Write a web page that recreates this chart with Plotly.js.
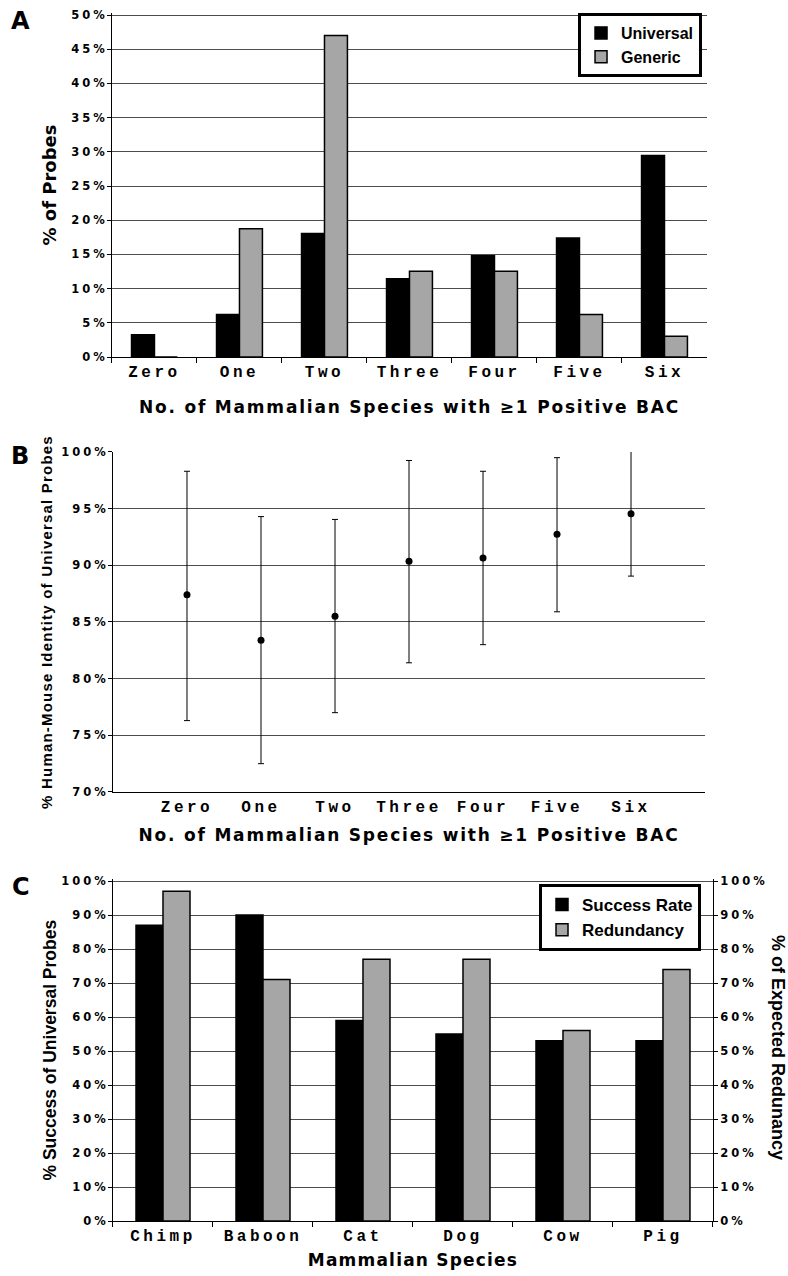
<!DOCTYPE html>
<html><head><meta charset="utf-8">
<script src="https://cdn.plot.ly/plotly-3.0.1.min.js"></script>
<style>
html,body{margin:0;padding:0;background:#fff;}
#chart{width:788px;height:1276px;}
.ytick text,.y2tick text,.y3tick text,.y4tick text{letter-spacing:3px;}
.xtick text,.x2tick text,.x3tick text{letter-spacing:3.5px;}
.g-xtitle text,.g-x2title text{letter-spacing:1.8px;}
.g-x3title text{letter-spacing:1.2px;}
.g-y2title text{letter-spacing:1.2px;}
</style></head><body><div id="chart"></div>
<script>
// ---- Panel A data ----
const countLabels = ['Zero', 'One', 'Two', 'Three', 'Four', 'Five', 'Six'];
const universalPct = [3.25, 6.2, 18.05, 11.45, 14.8, 17.4, 29.45];
const genericPct = [0, 18.75, 47.0, 12.55, 12.55, 6.2, 3.05];
const tickValsA = [0, 5, 10, 15, 20, 25, 30, 35, 40, 45, 50];
const tickTextA = ['0%', '5%', '10%', '15%', '20%', '25%', '30%', '35%', '40%', '45%', '50%'];

// ---- Panel B data ----
const identityMean = [87.4, 83.4, 85.5, 90.35, 90.65, 92.75, 94.55];
const identityErrPlus = [10.9, 10.9, 8.55, 8.9, 7.65, 6.75, 5.75];
const identityErrMinus = [11.1, 10.9, 8.5, 8.95, 7.65, 6.85, 5.5];
const tickValsB = [70, 75, 80, 85, 90, 95, 100];
const tickTextB = ['70%', '75%', '80%', '85%', '90%', '95%', '100%'];

// ---- Panel C data ----
const species = ['Chimp', 'Baboon', 'Cat', 'Dog', 'Cow', 'Pig'];
const successRate = [87, 90, 59, 55, 53, 53];
const redundancy = [97, 71, 77, 77, 56, 74];
const tickValsC = [0, 10, 20, 30, 40, 50, 60, 70, 80, 90, 100];
const tickTextC = ['0%', '10%', '20%', '30%', '40%', '50%', '60%', '70%', '80%', '90%', '100%'];

const BLACK = '#000000';
const GRAY = '#a6a6a6';
const GRID = '#4d4d4d';
const numFont = {family: 'DejaVu Sans', size: 11.5, weight: 'bold', color: BLACK};
const catFont = {family: 'Liberation Mono', size: 16, weight: 'bold', color: BLACK};
const wideTitleFont = {family: 'DejaVu Sans', size: 17, weight: 'bold', color: BLACK};

const traces = [
  {type: 'bar', name: 'Universal', x: countLabels, y: universalPct, xaxis: 'x', yaxis: 'y',
   marker: {color: BLACK, line: {color: BLACK, width: 1.5}}, legend: 'legend', hoverinfo: 'none'},
  {type: 'bar', name: 'Generic', x: countLabels, y: genericPct, xaxis: 'x', yaxis: 'y',
   marker: {color: GRAY, line: {color: BLACK, width: 1.5}}, legend: 'legend', hoverinfo: 'none'},
  {type: 'scatter', mode: 'markers', x: countLabels, y: identityMean, xaxis: 'x2', yaxis: 'y2',
   marker: {color: BLACK, size: 7}, showlegend: false, cliponaxis: false, hoverinfo: 'none',
   error_y: {type: 'data', symmetric: false, array: identityErrPlus, arrayminus: identityErrMinus,
             color: BLACK, thickness: 1, width: 3}},
  {type: 'bar', name: 'Success Rate', x: species, y: successRate, xaxis: 'x3', yaxis: 'y3',
   offsetgroup: 'succ', alignmentgroup: 'c',
   marker: {color: BLACK, line: {color: BLACK, width: 1.5}}, legend: 'legend2', hoverinfo: 'none'},
  {type: 'bar', name: 'Redundancy', x: species, y: redundancy, xaxis: 'x3', yaxis: 'y4',
   offsetgroup: 'red', alignmentgroup: 'c',
   marker: {color: GRAY, line: {color: BLACK, width: 1.5}}, legend: 'legend2', hoverinfo: 'none'}
];

const yCommon = {
  showline: true, linecolor: BLACK, linewidth: 1, ticks: 'outside', ticklen: 4, tickcolor: BLACK,
  tickfont: numFont, tickmode: 'array', gridcolor: GRID, gridwidth: 1,
  zeroline: false, fixedrange: true, automargin: 'left', ticklabelstandoff: -3
};
const xCatCommon = {
  type: 'category', showline: true, linecolor: BLACK, linewidth: 1, tickfont: catFont,
  zeroline: false, showgrid: false, fixedrange: true, automargin: 'left'
};

const layout = {
  width: 788, height: 1276,
  margin: {l: 0, r: 0, t: 0, b: 0, autoexpand: false},
  paper_bgcolor: '#ffffff', plot_bgcolor: '#ffffff',
  barmode: 'group', bargap: 0.46, bargroupgap: 0,
  showlegend: true,
  // ---------- Panel A ----------
  xaxis: Object.assign({}, xCatCommon, {
    domain: [0.1421, 0.8972], anchor: 'y',
    ticks: 'outside', tickson: 'boundaries', ticklen: 5, tickcolor: BLACK,
    title: {text: 'No. of Mammalian Species with \u22651 Positive BAC', font: wideTitleFont, standoff: 19}
  }),
  yaxis: Object.assign({}, yCommon, {
    domain: [0.72022, 0.98985], anchor: 'x', range: [0, 50.3], tickvals: tickValsA, ticktext: tickTextA,
    showgrid: true,
    title: {text: '% of Probes', font: {family: 'DejaVu Sans', size: 18, weight: 'bold', color: BLACK}, standoff: 9}
  }),
  // ---------- Panel B ----------
  xaxis2: Object.assign({}, xCatCommon, {
    domain: [0.1434, 0.8947], anchor: 'y2', range: [-1, 7], ticks: '',
    title: {text: 'No. of Mammalian Species with \u22651 Positive BAC', font: wideTitleFont, standoff: 12}
  }),
  yaxis2: Object.assign({}, yCommon, {
    domain: [0.37931, 0.64577], anchor: 'x2', range: [70, 100], tickvals: tickValsB, ticktext: tickTextB,
    showgrid: true,
    title: {text: '% Human-Mouse Identity of Universal Probes',
            font: {family: 'Liberation Sans', size: 15, weight: 'bold', color: BLACK}, standoff: 4}
  }),
  // ---------- Panel C ----------
  xaxis3: Object.assign({}, xCatCommon, {
    domain: [0.1434, 0.9048], anchor: 'y3',
    ticks: 'outside', tickson: 'boundaries', ticklen: 5, tickcolor: BLACK,
    title: {text: 'Mammalian Species', font: wideTitleFont, standoff: 8}
  }),
  yaxis3: Object.assign({}, yCommon, {
    domain: [0.04310, 0.31089], anchor: 'x3', range: [0, 100.5], tickvals: tickValsC, ticktext: tickTextC,
    showgrid: true,
    title: {text: '% Success of Universal Probes',
            font: {family: 'Liberation Sans', size: 17.5, weight: 'bold', color: BLACK}, standoff: 0}
  }),
  yaxis4: Object.assign({}, yCommon, {
    overlaying: 'y3', side: 'right', anchor: 'x3', range: [0, 100.5], tickvals: tickValsC, ticktext: tickTextC,
    showgrid: false, automargin: 'right', ticklabelstandoff: 0
  }),
  legend: {
    x: 0.8909, xanchor: 'right', y: 0.9898, yanchor: 'top',
    bgcolor: '#ffffff', bordercolor: BLACK, borderwidth: 3, traceorder: 'normal', tracegroupgap: 0,
    font: {family: 'Liberation Sans', size: 16, weight: 'bold', color: BLACK}
  },
  legend2: {
    x: 0.8896, xanchor: 'right', y: 0.30721, yanchor: 'top',
    bgcolor: '#ffffff', bordercolor: BLACK, borderwidth: 3, traceorder: 'normal', tracegroupgap: 0,
    font: {family: 'Liberation Sans', size: 17, weight: 'bold', color: BLACK}
  },
  annotations: [
    {text: 'A', xref: 'paper', yref: 'paper', x: 0.0266, y: 0.98354, xanchor: 'center', yanchor: 'middle',
     showarrow: false, font: {family: 'DejaVu Sans', size: 24, weight: 'bold', color: BLACK}},
    {text: 'B', xref: 'paper', yref: 'paper', x: 0.0254, y: 0.64263, xanchor: 'center', yanchor: 'middle',
     showarrow: false, font: {family: 'DejaVu Sans', size: 24, weight: 'bold', color: BLACK}},
    {text: 'C', xref: 'paper', yref: 'paper', x: 0.0266, y: 0.30486, xanchor: 'center', yanchor: 'middle',
     showarrow: false, font: {family: 'DejaVu Sans', size: 24, weight: 'bold', color: BLACK}},
    {text: '% of Expected Redunancy', xref: 'paper', yref: 'paper', x: 0.9873, y: 0.17868,
     xanchor: 'center', yanchor: 'middle', textangle: 90, showarrow: false,
     font: {family: 'Liberation Sans', size: 18, weight: 'bold', color: BLACK}}
  ]
};

Plotly.newPlot('chart', traces, layout, {staticPlot: true, displayModeBar: false});
</script>
</body></html>
